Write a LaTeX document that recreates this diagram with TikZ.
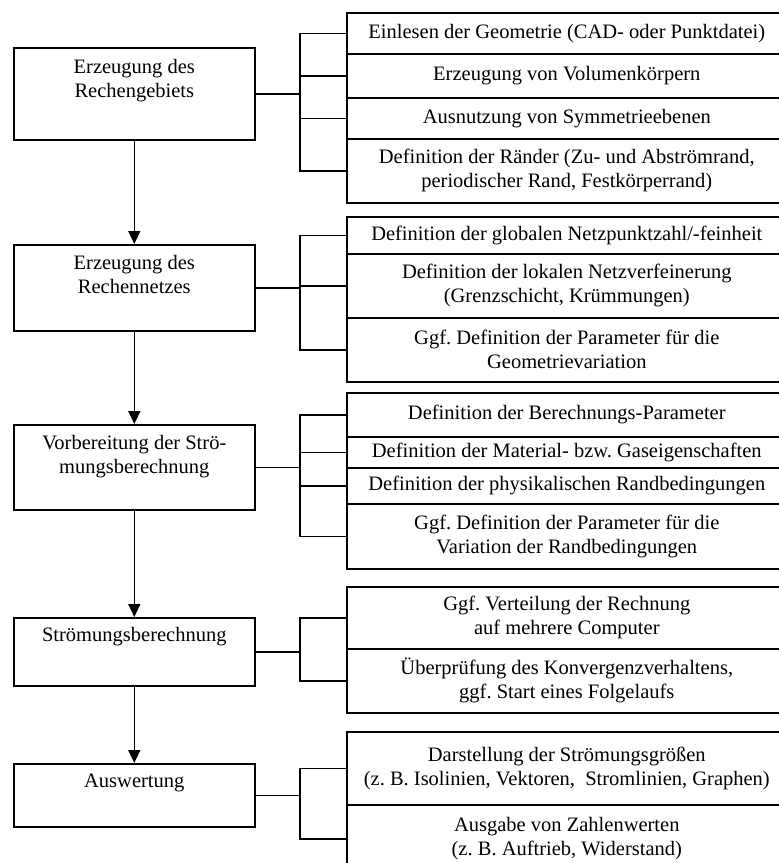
\documentclass[tikz,border=0pt]{standalone}
\usepackage{fontspec}
\setmainfont{Liberation Serif}
\usetikzlibrary{arrows.meta,calc}
\frenchspacing
\begin{document}
\begin{tikzpicture}[x=1pt,y=-1pt,
  line width=1.6pt,
  lbox/.style={draw, inner sep=0pt, minimum width=241pt, anchor=north west},
  ltext/.style={anchor=north, align=center, inner sep=0pt, font=\fontsize{20.5}{24}\selectfont},
  cell/.style={draw, inner sep=0pt, minimum width=440pt, anchor=north west, align=center, font=\fontsize{20.5}{24}\selectfont},
  flow/.style={-{Triangle[length=13pt,width=12pt]}},
]
\useasboundingbox (0,0) rectangle (779,863);
\clip (0,0) rectangle (779,863);
\coordinate (bx) at (300,0);

% left boxes
\node[lbox, minimum height=92pt] (b1) at (13,47) {};
\node[ltext] (t1) at ($(b1.north)+(0,11)$) {Erzeugung des\\Rechengebiets};
\node[lbox, minimum height=86pt] (b2) at (13,244) {};
\node[ltext] (t2) at ($(b2.north)+(0,10)$) {Erzeugung des\\Rechennetzes};
\node[lbox, minimum height=85pt] (b3) at (13,424) {};
\node[ltext] (t3) at ($(b3.north)+(0,10)$) {Vorbereitung der Strö-\\mungsberechnung};
\node[lbox, minimum height=68pt] (b4) at (13,617) {};
\node[ltext] (t4) at ($(b4.north)+(0,9)$) {Strömungsberechnung};
\node[lbox, minimum height=63pt] (b5) at (13,763) {};
\node[ltext] (t5) at ($(b5.north)+(0,10)$) {Auswertung};

% group 1
\node[cell, minimum height=41pt] (c11) at (346,12) {Einlesen der Geometrie (CAD- oder Punktdatei)};
\node[cell, minimum height=44pt] (c12) at (346,53) {Erzeugung von Volumenkörpern};
\node[cell, minimum height=41pt] (c13) at (346,97) {Ausnutzung von Symmetrieebenen};
\node[cell, minimum height=64pt] (c14) at (346,138) {Definition der Ränder (Zu- und Abströmrand,\\periodischer Rand, Festkörperrand)};

% group 2
\node[cell, minimum height=37pt] (c21) at (346,216) {Definition der globalen Netzpunktzahl/-feinheit};
\node[cell, minimum height=64pt] (c22) at (346,253) {Definition der lokalen Netzverfeinerung\\(Grenzschicht, Krümmungen)};
\node[cell, minimum height=64pt] (c23) at (346,317) {Ggf. Definition der Parameter für die\\Geometrievariation};

% group 3
\node[cell, minimum height=44pt] (c31) at (346,392) {Definition der Berechnungs-Parameter};
\node[cell, minimum height=31pt] (c32) at (346,436) {Definition der Material- bzw. Gaseigenschaften};
\node[cell, minimum height=36pt] (c33) at (346,467) {Definition der physikalischen Randbedingungen};
\node[cell, minimum height=65pt] (c34) at (346,503) {Ggf. Definition der Parameter für die\\Variation der Randbedingungen};

% group 4
\node[cell, minimum height=62pt] (c41) at (346,586) {Ggf. Verteilung der Rechnung\\auf mehrere Computer};
\node[cell, minimum height=64pt] (c42) at (346,648) {Überprüfung des Konvergenzverhaltens,\\ggf. Start eines Folgelaufs};

% group 5
\node[cell, minimum height=73pt] (c51) at (346,731) {Darstellung der Strömungsgrößen\\(z. B. Isolinien, Vektoren,\ \ Stromlinien, Graphen)};
\node[cell, minimum height=68pt] (c52) at (346,804) {Ausgabe von Zahlenwerten\\(z. B. Auftrieb, Widerstand)};

% flow arrows
\draw[flow] (b1.south) -- (b2.north);
\draw[flow] (b2.south) -- (b3.north);
\draw[flow] (b3.south) -- (b4.north);
\draw[flow] (b4.south) -- (b5.north);

% brackets
\draw (b1.east) -- (b1.east -| bx);
\draw (c11.west) -- (c11.west -| bx) -- (c14.west -| bx) -- (c14.west);
\draw (c12.west -| bx) -- (c12.west);
\draw (c13.west -| bx) -- (c13.west);

\draw (b2.east) -- (b2.east -| bx);
\draw (c21.west) -- (c21.west -| bx) -- (c23.west -| bx) -- (c23.west);
\draw (c22.west -| bx) -- (c22.west);

\draw (b3.east) -- (b3.east -| bx);
\draw (c31.west) -- (c31.west -| bx) -- (c34.west -| bx) -- (c34.west);
\draw (c32.west -| bx) -- (c32.west);
\draw (c33.west -| bx) -- (c33.west);

\draw (b4.east) -- (b4.east -| bx);
\draw (c41.west) -- (c41.west -| bx) -- (c42.west -| bx) -- (c42.west);

\draw (b5.east) -- (b5.east -| bx);
\draw (c51.west) -- (c51.west -| bx) -- (c52.west -| bx) -- (c52.west);
\end{tikzpicture}
\end{document}
